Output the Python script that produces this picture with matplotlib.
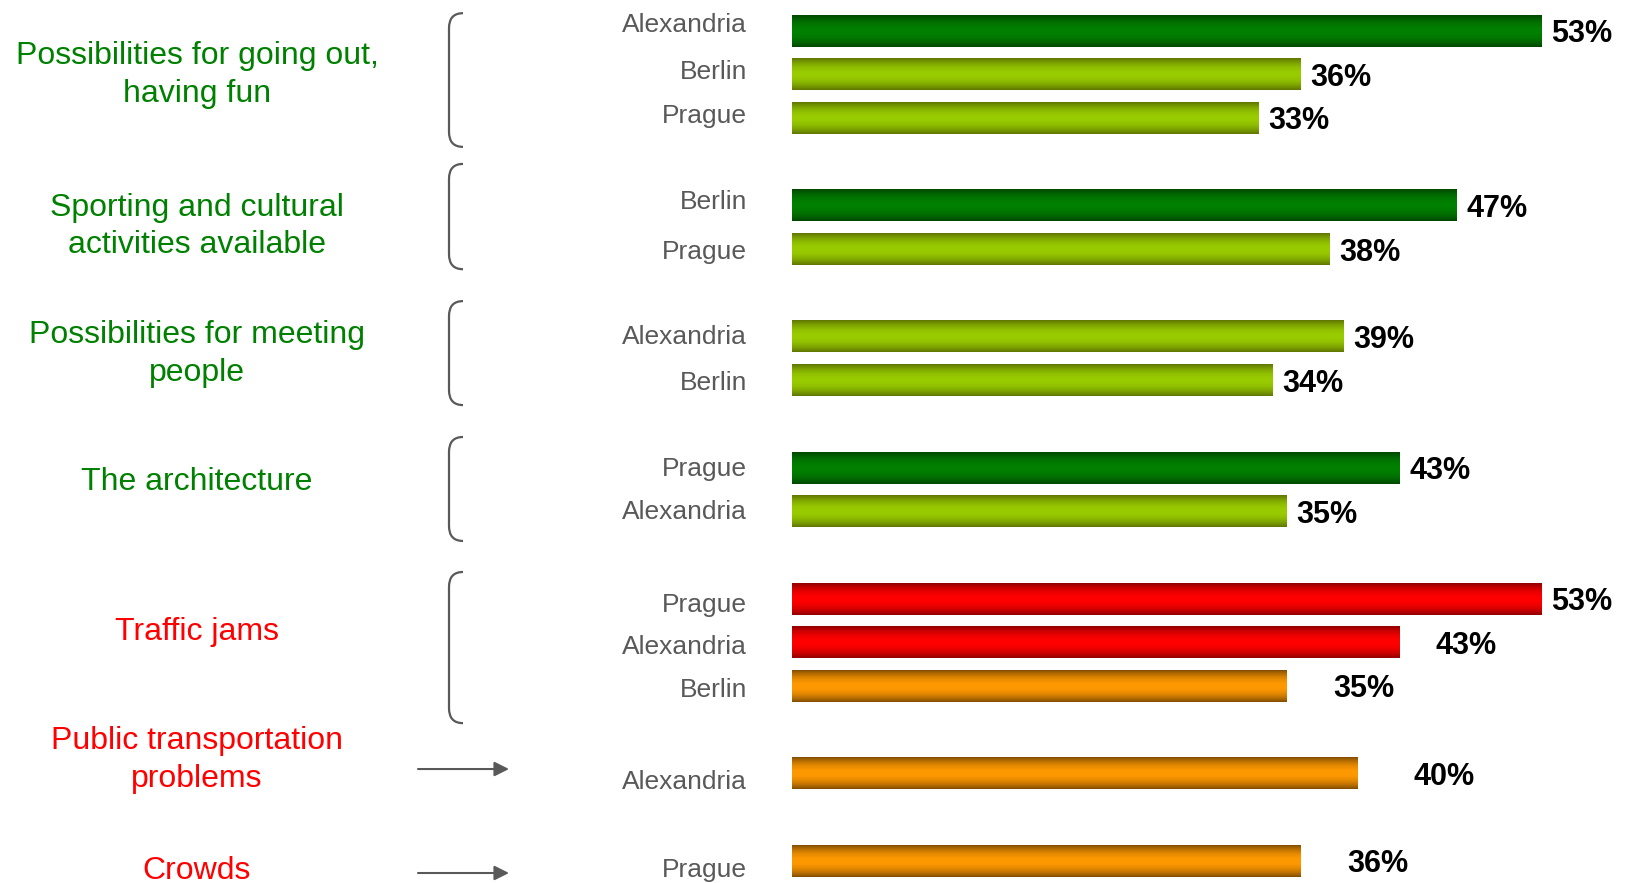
import numpy as np
import matplotlib
matplotlib.use("Agg")
import matplotlib.pyplot as plt
from matplotlib.path import Path
from matplotlib.patches import PathPatch
from matplotlib.transforms import blended_transform_factory

plt.rcParams["font.family"] = ["Liberation Sans", "DejaVu Sans"]

# ============================================================
# DATA
# ============================================================

categories = [
    "Possibilities for going out,\nhaving fun",
    "Sporting and cultural\nactivities available",
    "Possibilities for meeting\npeople",
    "The architecture",
    "Traffic jams",
    "Public transportation\nproblems",
    "Crowds",
]
category_colors = ["#008000"] * 4 + ["#ff0000"] * 3

# one list per group: city names and percentages
cities = [
    ["Alexandria", "Berlin", "Prague"],
    ["Berlin", "Prague"],
    ["Alexandria", "Berlin"],
    ["Prague", "Alexandria"],
    ["Prague", "Alexandria", "Berlin"],
    ["Alexandria"],
    ["Prague"],
]
values = [
    [53, 36, 33],
    [47, 38],
    [39, 34],
    [43, 35],
    [53, 43, 35],
    [40],
    [36],
]
bar_shades = [
    ["dkgreen", "ltgreen", "ltgreen"],
    ["dkgreen", "ltgreen"],
    ["ltgreen", "ltgreen"],
    ["dkgreen", "ltgreen"],
    ["red", "red", "orange"],
    ["orange"],
    ["orange"],
]

# ============================================================
# STYLE
# ============================================================

SHADES = {  # (edge, centre) colours of the vertical gradient
    "dkgreen": ((0, 72, 0), (0, 128, 0)),
    "ltgreen": ((95, 118, 0), (153, 204, 0)),
    "red": ((145, 0, 0), (255, 0, 0)),
    "orange": ((130, 78, 0), (255, 153, 0)),
}
GRAY = "#595959"
BAR_H = 0.71

# per-bar label padding (px) and city label vertical nudge (px)
label_pad_px = [10, 10, 10, 10, 10, 10, 10, 10, 10, 10, 36, 47, 56, 47]
city_dy_px = [-9, -5, -5, -6, 0, -2, 0, -1, -2, 3, 2, 1.5, 6, 6]
# category label vertical nudge (rows)
cat_dy = [0.01, -0.03, -0.11, -0.18, -0.24, -0.32, 0.22]
# bracket extents relative to first / last bar (rows)
brace_pad = [(-0.41, 0.65), (-0.96, 0.45), (-0.82, 0.56), (-0.71, 0.67), (-0.62, 0.84)]
arrow_dy = {5: -0.11, 6: 0.27}

W, H = 1627, 883
fig = plt.figure(figsize=(W / 100, H / 100), dpi=100)
ax = fig.add_axes([0, 0, 1, 1])
ax.axis("off")

px_per_pct = (1541 - 792) / 53
row_px = 43.69
blend = blended_transform_factory(ax.transAxes, ax.transData)


def gradient(shade, n=64):
    edge, mid = (np.array(c) / 255 for c in SHADES[shade])
    t = np.linspace(0, 1, n)
    f = 1 - np.abs(2 * t - 1) ** 2.0
    return (edge + (mid - edge) * f[:, None])[:, None, :]


# row positions: a blank slot between groups
positions = []
pos = 0
for grp in cities:
    positions.append(list(range(pos, pos + len(grp))))
    pos += len(grp) + 1

k = 0
for g, grp in enumerate(cities):
    for j, city in enumerate(grp):
        y = positions[g][j]
        v = values[g][j]
        ax.imshow(gradient(bar_shades[g][j]), extent=(0, v, y + BAR_H / 2, y - BAR_H / 2),
                  aspect="auto", interpolation="bilinear", zorder=2)
        ax.annotate(f"{v}%", xy=(v, y), xytext=(label_pad_px[k] * 0.72, -11 * 0.72),
                    textcoords="offset points", ha="left", va="baseline",
                    fontsize=22, fontweight="bold", color="black")
        ax.annotate(city, xy=(747 / W, y), xycoords=blend,
                    xytext=(0, -(city_dy_px[k] + 9.5) * 0.72), textcoords="offset points",
                    ha="right", va="baseline", fontsize=19, color=GRAY)
        k += 1

    yc = (positions[g][0] + positions[g][-1]) / 2 + cat_dy[g]
    ax.text(197 / W, yc, categories[g], transform=blend, ha="center", va="center",
            fontsize=23, color=category_colors[g], linespacing=1.33)

# brackets
xv, xh = 449 / W, 463 / W
rx, ry = 15 / W, 15 / row_px
for g, (top_pad, bot_pad) in enumerate(brace_pad):
    y0 = positions[g][0] + top_pad
    y1 = positions[g][-1] + bot_pad
    verts = [(xh, y0), (xv, y0), (xv, y0 + ry), (xv, y1 - ry), (xv, y1), (xh, y1)]
    codes = [Path.MOVETO, Path.CURVE3, Path.CURVE3, Path.LINETO, Path.CURVE3, Path.CURVE3]
    ax.add_patch(PathPatch(Path(verts, codes), transform=blend, fill=False,
                           edgecolor=GRAY, lw=1.6, zorder=3))

# arrows
for g, dy in arrow_dy.items():
    y = positions[g][0] + dy
    ax.annotate("", xy=(509 / W, y), xytext=(418 / W, y), xycoords=blend, textcoords=blend,
                arrowprops=dict(arrowstyle="-|>", color=GRAY, lw=1.5, mutation_scale=22,
                                shrinkA=0, shrinkB=0))

ax.set_xlim(-792 / px_per_pct, (W - 792) / px_per_pct)
ax.set_ylim((H - 31.1) / row_px, -31.1 / row_px)

fig.savefig("out.png", dpi=100, facecolor="white")
